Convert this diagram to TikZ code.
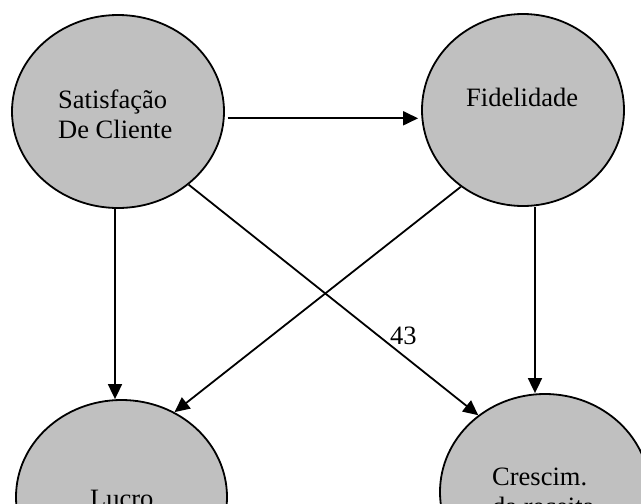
\documentclass[tikz,border=0pt]{standalone}
\usepackage{fontspec}
\setmainfont{Liberation Serif}
\usetikzlibrary{shapes.geometric,arrows.meta}
\definecolor{bubblegray}{RGB}{192,192,192}
\begin{document}
\begin{tikzpicture}[x=1pt,y=-1pt,
  bubble/.style={ellipse, draw=black, fill=bubblegray, line width=1.8pt, inner sep=0pt},
  caption/.style={anchor=base west, inner sep=0pt, font=\fontsize{26.5}{30}\selectfont},
  link/.style={line width=1.8pt, -{Triangle[length=15pt,width=14pt]}}]
\useasboundingbox (0,0) rectangle (641,504);
\clip (0,0) rectangle (641,504);

% the four factors
\node[bubble, minimum width=212pt, minimum height=193pt] (sat) at (118,111.5) {};
\node[bubble, minimum width=202pt, minimum height=192pt] (fid) at (523,110) {};
\node[bubble, minimum width=211pt, minimum height=194pt] (luc) at (121.5,497) {};
\node[bubble, minimum width=210pt, minimum height=196pt] (cre) at (545,492) {};

% their labels
\node[caption] (satA) at (58,108) {Satisfação};
\node[caption] (satB) at (58,138) {De Cliente};
\node[caption] (fidT) at (466,106) {Fidelidade};
\node[caption] (lucT) at (90,507) {Lucro};
\node[caption] (creA) at (492,485) {Crescim.};
\node[caption] (creB) at (492,515) {da receita};

% influences
\draw[link] ([shift={(2.7,6.8)}]sat.east) -- ([shift={(-3,8.3)}]fid.west);
\draw[link] ([xshift=-3pt]sat.south) -- ([xshift=-6.5pt]luc.north);
\draw[link] ([xshift=12pt]fid.south) -- ([xshift=-10pt]cre.north);
\draw[link] (fid.231) -- (luc.58);
\draw[link] (sat.-46) -- node[caption, pos=0.693] (w) {43} (cre.131);
\end{tikzpicture}
\end{document}
